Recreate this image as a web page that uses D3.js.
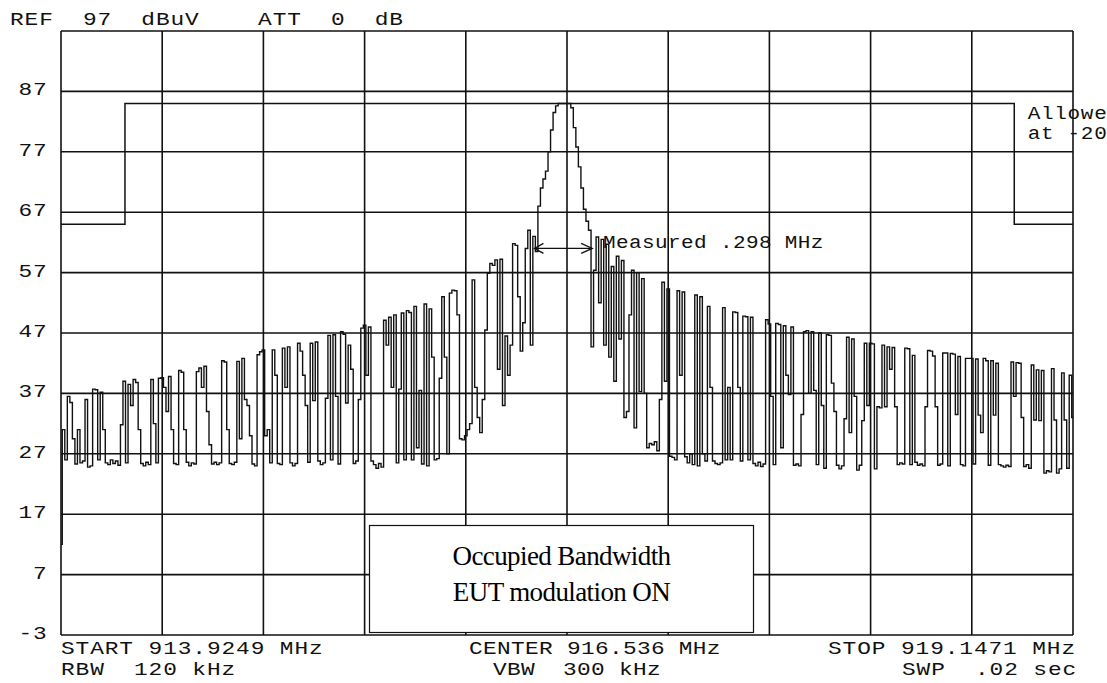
<!DOCTYPE html>
<html>
<head>
<meta charset="utf-8">
<script src="https://cdn.jsdelivr.net/npm/d3@7"></script>
<style>
  html, body { margin: 0; padding: 0; background: #fff; }
  svg text { white-space: pre; }
</style>
</head>
<body>
<div id="chart"></div>
<script>
// sweep settings
var startFreq = 913.9249;
var stopFreq = 919.1471;
var refLevel = 97;
var bottomLevel = -3;

// y labels on the left
var yTicks = [87, 77, 67, 57, 47, 37, 27, 17, 7, -3];

// limit line (dBuV)
var limitFreq = [913.9249, 914.255, 914.255, 918.844, 918.844, 919.1471];
var limitLevel = [65, 65, 85, 85, 65, 65];

// measured trace, 401 sweep points, dBuV
var trace = [
  12, 31, 26, 36.5, 35.5, 29.5, 25.3, 31, 25.5, 25.8,
  36, 24.8, 25, 37.7, 37.6, 26, 37.2, 31, 25.5, 25.2,
  26, 25.4, 25.8, 25.1, 31.8, 39, 25.5, 38.5, 35, 39.3,
  38.8, 31, 25.4, 25, 25.6, 25.2, 39.3, 32, 25.5, 39.5,
  39.6, 38, 34, 39.8, 31, 25.4, 25.2, 40.8, 40.5, 31,
  25.6, 25, 25.5, 25.3, 40.6, 41.2, 38, 41.5, 34, 28.5,
  25.3, 25.6, 25.2, 25.5, 42.4, 42.2, 31, 25.4, 25.2, 25.6,
  42.3, 29.5, 42.8, 36, 35, 30, 25.3, 25, 43.4, 43.9,
  44.2, 30, 31, 25.5, 44.2, 40, 25.4, 25.2, 44.5, 38,
  44.7, 25.5, 25, 25.4, 45.3, 44, 40, 35, 25.6, 45.3,
  35.8, 45.5, 25.8, 25.2, 25.5, 36.2, 46.6, 26, 46.7, 36.5,
  25.3, 47.2, 46.8, 35.4, 45, 41, 25.4, 25.8, 36, 47.8,
  48.3, 40, 48, 25.8, 25.2, 24.6, 25.4, 24.8, 49.1, 45,
  49.6, 38, 50, 25.5, 37.7, 50.3, 26, 50.7, 50.4, 26,
  51.4, 28, 37.5, 25.3, 51.8, 25, 51, 43, 26, 26.2,
  39.5, 53, 43, 27, 53.6, 54.1, 54, 50, 29.5, 29.3,
  30, 31, 32, 55.8, 38, 33, 30.5, 36, 47.5, 56.9,
  58.5, 58.2, 59.1, 41, 59.2, 35, 46.5, 40, 45, 61.8,
  61.5, 53, 44, 48.7, 61, 64, 45, 63, 60.5, 68,
  71, 72.5, 73.8, 77, 80.6, 83.5, 84.6, 85, 85, 85,
  85, 85, 84.3, 81, 77.8, 74.5, 71, 67.5, 65.5, 64,
  44.7, 57.4, 62.9, 52, 62.5, 45, 61.7, 43, 58, 39,
  59.7, 46, 59, 33, 34, 50, 57.4, 31.3, 57, 37.3,
  56, 37, 28, 28.7, 28.5, 29, 27.5, 36, 55.4, 39,
  54.3, 26.6, 26.4, 26, 54, 40, 53.8, 26.5, 25.5, 27,
  25.2, 53.3, 25, 53, 27, 25.8, 51.4, 38, 25.8, 25.4,
  25.2, 25.5, 51.2, 26, 38, 26, 50.5, 50.4, 38, 25.8,
  49.8, 49.7, 26, 49.6, 25.4, 25, 25.6, 24.9, 25.3, 49.2,
  48.5, 36.5, 25.2, 48.6, 48.4, 28, 48.2, 40, 36.8, 48,
  25.1, 25.3, 25, 33.5, 47.2, 47.4, 37, 47.2, 37.5, 25.2,
  47, 35, 24.6, 46.7, 46.6, 38.7, 34, 25.1, 24.5, 25,
  32.8, 46.3, 30.5, 46, 36.5, 24.3, 25.1, 32.5, 45.3, 35,
  45.3, 45.2, 24.5, 34.8, 34.6, 45, 34.8, 44.7, 41, 44.6,
  34.8, 25.2, 25.5, 25.3, 44.5, 44.4, 25.2, 43.3, 25.6, 25.1,
  25.3, 25, 34.8, 44.1, 44, 43.2, 34.8, 25.1, 25.3, 43.7,
  43.7, 25, 43.6, 43.5, 33.5, 43.1, 25.2, 25, 42.8, 42.8,
  42.8, 25.3, 42.7, 33.4, 30.5, 42.8, 42.4, 25.1, 42.4, 33.4,
  42, 25.2, 25, 24.8, 25.1, 24.9, 42.2, 36.5, 42.1, 42,
  33, 24.9, 25.2, 24.6, 41.7, 32.6, 40.9, 32.5, 40.8, 23.8,
  24.2, 24, 41.1, 32.6, 23.8, 24.5, 40.4, 32.6, 24.6, 40,
  33
];

var measuredBw = 0.298;  // MHz, the -20 dB width
var measuredLevel = 61;

var W = 1107, H = 683;
var plotLeft = 61, plotRight = 1073, plotTop = 31, plotBottom = 635;
var ink = "#111";
var adv = 14.6;   // character pitch of the analyser font

var x = d3.scaleLinear().domain([startFreq, stopFreq]).range([plotLeft, plotRight]);
var y = d3.scaleLinear().domain([bottomLevel, refLevel]).range([plotBottom, plotTop]);

var svg = d3.select("#chart")
  .append("svg")
  .attr("width", W)
  .attr("height", H)
  .style("display", "block");

// graticule: 10 x 10 divisions
var span = stopFreq - startFreq;
var vLines = d3.range(11).map(function(i) { return startFreq + i * span / 10; });
var hLines = [refLevel].concat(yTicks);

svg.append("g")
  .selectAll("line")
  .data(vLines)
  .enter().append("line")
  .attr("x1", function(d) { return x(d); })
  .attr("x2", function(d) { return x(d); })
  .attr("y1", plotTop)
  .attr("y2", plotBottom)
  .attr("stroke", ink)
  .attr("stroke-width", 1.6);

svg.append("g")
  .selectAll("line")
  .data(hLines)
  .enter().append("line")
  .attr("x1", plotLeft)
  .attr("x2", plotRight)
  .attr("y1", function(d) { return y(d); })
  .attr("y2", function(d) { return y(d); })
  .attr("stroke", ink)
  .attr("stroke-width", 1.6);

// limit line
var limitData = limitFreq.map(function(f, i) { return { f: f, v: limitLevel[i] }; });
var line = d3.line()
  .x(function(d) { return x(d.f); })
  .y(function(d) { return y(d.v); });

svg.append("path")
  .datum(limitData)
  .attr("d", line)
  .attr("fill", "none")
  .attr("stroke", ink)
  .attr("stroke-width", 1.5);

// trace
var step = span / (trace.length - 1);
var traceData = trace.map(function(v, i) { return { f: startFreq + i * step, v: v }; });

var stepLine = d3.line()
  .x(function(d) { return x(d.f); })
  .y(function(d) { return y(d.v); })
  .curve(d3.curveStep);

svg.append("path")
  .datum(traceData)
  .attr("d", stepLine)
  .attr("fill", "none")
  .attr("stroke", ink)
  .attr("stroke-width", 1.4);

// measured bandwidth arrow
var peakFreq = 916.52;
var f1 = peakFreq - measuredBw / 2 - 0.003, f2 = f1 + measuredBw;
var ay = y(measuredLevel);
var arrow = svg.append("g").attr("stroke", ink).attr("stroke-width", 1.3).attr("fill", "none");
arrow.append("line").attr("x1", x(f1)).attr("x2", x(f2)).attr("y1", ay).attr("y2", ay);
arrow.append("path").attr("d", "M" + (x(f2) - 11) + "," + (ay - 5) + "L" + x(f2) + "," + ay + "L" + (x(f2) - 11) + "," + (ay + 5));
arrow.append("path").attr("d", "M" + (x(f1) + 9) + "," + (ay - 5) + "L" + x(f1) + "," + ay + "L" + (x(f1) + 9) + "," + (ay + 5));

// analyser text, stretched sideways like the plotter font
function hpText(str, tx, ty, size, pitch) {
  var sx = 1.2;
  var natural = size * 0.6;
  return svg.append("text")
    .attr("transform", "translate(" + tx + "," + ty + ") scale(" + sx + ",1)")
    .attr("xml:space", "preserve")
    .attr("font-family", "'Liberation Mono', 'DejaVu Sans Mono', monospace")
    .attr("font-size", size)
    .attr("letter-spacing", pitch / sx - natural)
    .attr("fill", ink)
    .text(str);
}

hpText("REF  97  dBuV    ATT  0  dB", 10, 25, 19, adv);

yTicks.forEach(function(t) {
  var s = String(t);
  hpText(s, 33 - (s.length - 1) * adv, y(t) + 4, 19, adv);
});

hpText("START 913.9249 MHz", 61, 654, 19, adv);
hpText("RBW  120 kHz", 61, 675, 19, adv);
hpText("CENTER 916.536 MHz", 469, 654, 19, 14.0);
hpText("VBW  300 kHz", 493, 675, 19, 14.0);
hpText("STOP 919.1471 MHz", 828, 654, 19, adv);
hpText("SWP  .02 sec", 902, 675, 19, adv);

hpText("Measured .298 MHz", 603, 248, 17.5, 13.0);
hpText("Allowed BW", 1027.7, 119, 17.5, 13.3);
hpText("at -20 dB", 1027.7, 139, 17.5, 13.3);

// caption box
svg.append("rect")
  .attr("x", 369.5)
  .attr("y", 525.5)
  .attr("width", 384)
  .attr("height", 107)
  .attr("fill", "#fff")
  .attr("stroke", ink)
  .attr("stroke-width", 1.2);

var caption = svg.append("text")
  .attr("text-anchor", "middle")
  .attr("font-family", "'Liberation Serif', 'Times New Roman', serif")
  .attr("font-size", 27)
  .attr("letter-spacing", -0.6)
  .attr("fill", "#000");
caption.append("tspan").attr("x", 561.5).attr("y", 565).text("Occupied Bandwidth");
caption.append("tspan").attr("x", 561.5).attr("y", 601).text("EUT modulation ON");
</script>
</body>
</html>
